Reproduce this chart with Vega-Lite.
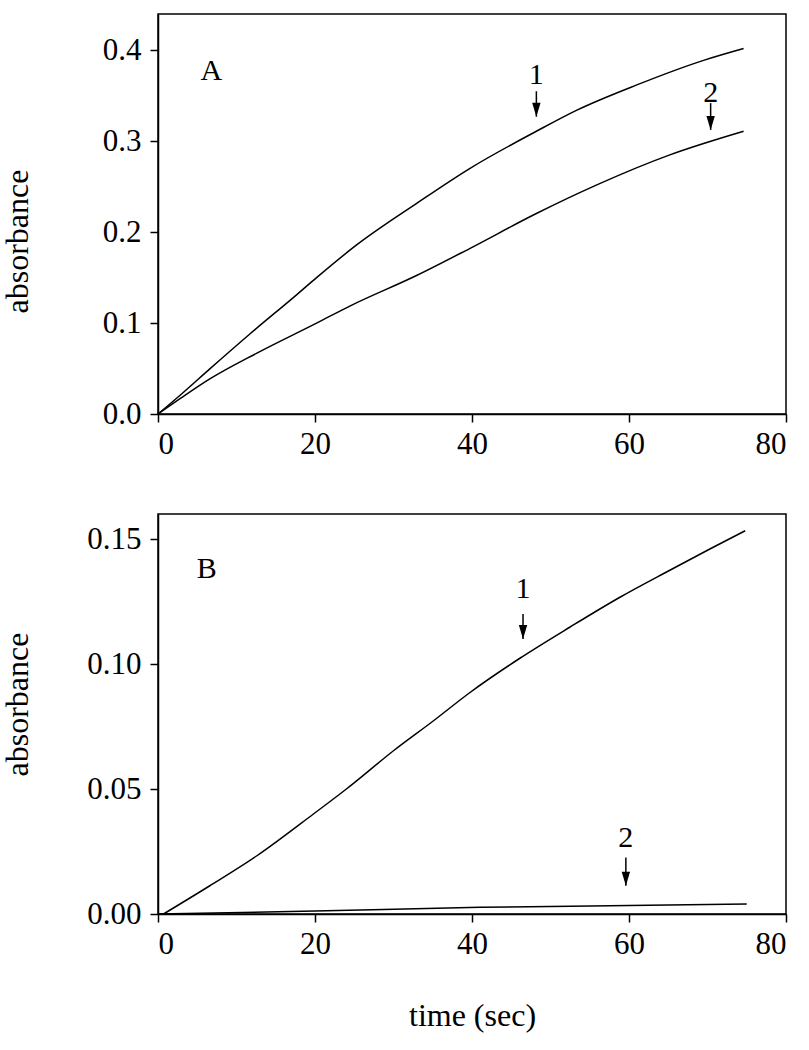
{
  "$schema": "https://vega.github.io/schema/vega-lite/v6.json",
  "background": "white",
  "padding": {"left": 0, "top": 13, "right": 5, "bottom": 5},
  "bounds": "flush",
  "spacing": 100,
  "config": {
    "font": "Liberation Serif",
    "view": {"stroke": "black", "strokeWidth": 1.5},
    "axis": {"grid": false, "domainColor": "black", "domainWidth": 1.5, "tickColor": "black", "tickWidth": 1.5, "tickSize": 8, "labelFont": "Liberation Serif", "labelFontSize": 31, "labelColor": "black", "titleFont": "Liberation Serif", "titleFontSize": 32, "titleFontWeight": "normal", "titleColor": "black"},
    "axisX": {"labelPadding": 7},
    "axisY": {"labelPadding": 9}
  },
  "datasets": {
    "curvesA": [
      {"curve": "1", "t": 0, "v": 0},
      {"curve": "1", "t": 3, "v": 0.022},
      {"curve": "1", "t": 6.6, "v": 0.0496},
      {"curve": "1", "t": 11.7, "v": 0.088},
      {"curve": "1", "t": 17.5, "v": 0.13},
      {"curve": "1", "t": 20.2, "v": 0.15},
      {"curve": "1", "t": 25.3, "v": 0.186},
      {"curve": "1", "t": 33, "v": 0.232},
      {"curve": "1", "t": 39.7, "v": 0.27},
      {"curve": "1", "t": 48.2, "v": 0.311},
      {"curve": "1", "t": 53.3, "v": 0.334},
      {"curve": "1", "t": 61, "v": 0.362},
      {"curve": "1", "t": 69.5, "v": 0.389},
      {"curve": "1", "t": 74.6, "v": 0.402},
      {"curve": "2", "t": 0, "v": 0},
      {"curve": "2", "t": 3, "v": 0.018},
      {"curve": "2", "t": 6.6, "v": 0.0386},
      {"curve": "2", "t": 12.6, "v": 0.067},
      {"curve": "2", "t": 20.2, "v": 0.1},
      {"curve": "2", "t": 24.5, "v": 0.119},
      {"curve": "2", "t": 33, "v": 0.1526},
      {"curve": "2", "t": 39.7, "v": 0.182},
      {"curve": "2", "t": 48.2, "v": 0.2205},
      {"curve": "2", "t": 55.9, "v": 0.252},
      {"curve": "2", "t": 65.2, "v": 0.285},
      {"curve": "2", "t": 74.6, "v": 0.311}
    ],
    "arrowsA": [
      {"t": 48.2, "v": 0.327, "vtop": 0.355},
      {"t": 70.4, "v": 0.3125, "vtop": 0.342}
    ],
    "labelsA": [
      {"t": 6.8, "v": 0.377, "label": "A"},
      {"t": 48.2, "v": 0.373, "label": "1"},
      {"t": 70.4, "v": 0.353, "label": "2"}
    ],
    "curvesB": [
      {"curve": "1", "t": 0.7, "v": 0},
      {"curve": "1", "t": 6.6, "v": 0.0113},
      {"curve": "1", "t": 12.6, "v": 0.0233},
      {"curve": "1", "t": 19.8, "v": 0.04},
      {"curve": "1", "t": 24, "v": 0.05},
      {"curve": "1", "t": 30, "v": 0.0653},
      {"curve": "1", "t": 35.1, "v": 0.0773},
      {"curve": "1", "t": 39.7, "v": 0.0885},
      {"curve": "1", "t": 46.1, "v": 0.1023},
      {"curve": "1", "t": 52.5, "v": 0.1148},
      {"curve": "1", "t": 58.9, "v": 0.1268},
      {"curve": "1", "t": 65.2, "v": 0.1375},
      {"curve": "1", "t": 70.3, "v": 0.146},
      {"curve": "1", "t": 74.8, "v": 0.1533},
      {"curve": "2", "t": 0, "v": 0},
      {"curve": "2", "t": 20, "v": 0.0012},
      {"curve": "2", "t": 41, "v": 0.0027},
      {"curve": "2", "t": 60, "v": 0.0034},
      {"curve": "2", "t": 75, "v": 0.004}
    ],
    "arrowsB": [
      {"t": 46.5, "v": 0.11, "vtop": 0.12},
      {"t": 59.6, "v": 0.0113, "vtop": 0.0226}
    ],
    "labelsB": [
      {"t": 6.2, "v": 0.138, "label": "B"},
      {"t": 46.5, "v": 0.13, "label": "1"},
      {"t": 59.6, "v": 0.0306, "label": "2"}
    ]
  },
  "vconcat": [
    {
      "width": 628,
      "height": 400,
      "encoding": {
        "x": {"field": "t", "type": "quantitative", "scale": {"domain": [0, 80], "nice": false}, "axis": {"values": [0, 20, 40, 60, 80], "title": null}},
        "y": {"field": "v", "type": "quantitative", "scale": {"domain": [0, 0.44], "nice": false}, "axis": {"values": [0, 0.1, 0.2, 0.3, 0.4], "format": ".1f", "title": "absorbance", "titleAngle": -90, "titleX": -131, "titleY": 227, "titleBaseline": "alphabetic", "titleAlign": "center"}}
      },
      "layer": [
        {"data": {"name": "curvesA"}, "mark": {"type": "line", "color": "black", "strokeWidth": 1.5, "interpolate": "monotone"}, "encoding": {"detail": {"field": "curve"}}},
        {"data": {"name": "arrowsA"}, "mark": {"type": "rule", "color": "black", "strokeWidth": 1.5}, "encoding": {"y2": {"field": "vtop"}}},
        {"data": {"name": "arrowsA"}, "mark": {"type": "point", "shape": "M-0.6,-2L0.6,-2L0,0Z", "size": 196, "filled": true, "color": "black", "opacity": 1}, "encoding": {}},
        {"data": {"name": "labelsA"}, "mark": {"type": "text", "font": "Liberation Serif", "fontSize": 30, "color": "black", "baseline": "middle", "align": "center"}, "encoding": {"text": {"field": "label"}}}
      ]
    },
    {
      "width": 628,
      "height": 400,
      "encoding": {
        "x": {"field": "t", "type": "quantitative", "scale": {"domain": [0, 80], "nice": false}, "axis": {"values": [0, 20, 40, 60, 80], "title": "time (sec)", "titleY": 111, "titleBaseline": "alphabetic"}},
        "y": {"field": "v", "type": "quantitative", "scale": {"domain": [0, 0.16], "nice": false}, "axis": {"values": [0, 0.05, 0.1, 0.15], "format": ".2f", "title": "absorbance", "titleAngle": -90, "titleX": -131, "titleY": 190, "titleBaseline": "alphabetic", "titleAlign": "center"}}
      },
      "layer": [
        {"data": {"name": "curvesB"}, "mark": {"type": "line", "color": "black", "strokeWidth": 1.5, "interpolate": "monotone"}, "encoding": {"detail": {"field": "curve"}}},
        {"data": {"name": "arrowsB"}, "mark": {"type": "rule", "color": "black", "strokeWidth": 1.5}, "encoding": {"y2": {"field": "vtop"}}},
        {"data": {"name": "arrowsB"}, "mark": {"type": "point", "shape": "M-0.6,-2L0.6,-2L0,0Z", "size": 196, "filled": true, "color": "black", "opacity": 1}, "encoding": {}},
        {"data": {"name": "labelsB"}, "mark": {"type": "text", "font": "Liberation Serif", "fontSize": 30, "color": "black", "baseline": "middle", "align": "center"}, "encoding": {"text": {"field": "label"}}}
      ]
    }
  ]
}
